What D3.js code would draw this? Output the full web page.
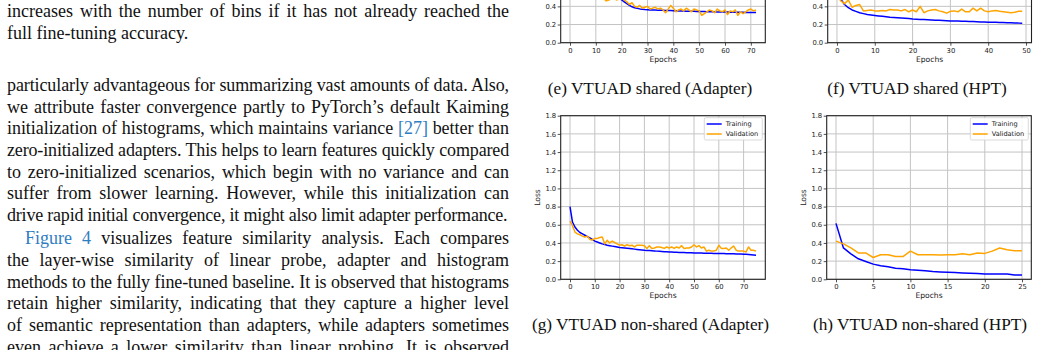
<!DOCTYPE html>
<html lang="en">
<head>
<meta charset="utf-8">
<title>VTUAD loss curves</title>
<style>
  body { margin: 0; width: 1038px; height: 350px; overflow: hidden; background: #fff; position: relative; }
  .ln { position: absolute; left: 7px; width: 502px; font: 18px "Liberation Serif", "Times New Roman", serif;
        line-height: 22px; color: #111; text-align: justify; text-align-last: justify; }
  .ln.last { text-align-last: left; }
  .lk { color: #2f7dc2; }
  #fig { position: absolute; left: 0; top: 0; }
  .tick text { font-family: "DejaVu Sans", sans-serif; font-size: 6.8px; fill: #222; }
  .lab { font-family: "DejaVu Sans", sans-serif; font-size: 7.6px; fill: #222; }
  .leg { font-family: "DejaVu Sans", sans-serif; font-size: 6.6px; fill: #222; }
  .cap { font-family: "Liberation Serif", "Times New Roman", serif; font-size: 17.3px; fill: #111; }
</style>
<script src="https://cdn.jsdelivr.net/npm/d3@7"></script>
</head>
<body>
<svg id="fig" width="1038" height="350"></svg>

<script>
// (e) VTUAD shared (Adapter), epochs 0..72
const eTrain = [1.20, 1.02, 0.90, 0.82, 0.76, 0.71, 0.67, 0.64, 0.615, 0.595, 0.58, 0.565, 0.55, 0.54, 0.53,
  0.52, 0.51, 0.50, 0.495, 0.49, 0.47, 0.45, 0.43, 0.41, 0.395, 0.385, 0.378, 0.372, 0.368, 0.365,
  0.363, 0.361, 0.36, 0.359, 0.358, 0.357, 0.356, 0.355, 0.354, 0.353, 0.352, 0.351, 0.35, 0.349, 0.348,
  0.347, 0.346, 0.346, 0.345, 0.344, 0.343, 0.343, 0.342, 0.341, 0.341, 0.34, 0.34, 0.339, 0.338, 0.338,
  0.337, 0.337, 0.336, 0.336, 0.335, 0.335, 0.334, 0.334, 0.333, 0.333, 0.332, 0.332, 0.331];
const eVal = [0.95, 0.80, 0.72, 0.66, 0.62, 0.60, 0.58, 0.56, 0.55, 0.54, 0.52, 0.53, 0.50, 0.49, 0.46,
  0.47, 0.48, 0.49, 0.47, 0.48, 0.50, 0.47, 0.45, 0.42, 0.44, 0.40, 0.39, 0.41, 0.38, 0.39,
  0.40, 0.37, 0.38, 0.39, 0.37, 0.38, 0.36, 0.33, 0.37, 0.41, 0.38, 0.34, 0.36, 0.37, 0.35,
  0.38, 0.36, 0.34, 0.37, 0.36, 0.35, 0.30, 0.32, 0.34, 0.36, 0.35, 0.33, 0.37, 0.35, 0.34,
  0.36, 0.31, 0.35, 0.34, 0.36, 0.30, 0.34, 0.32, 0.34, 0.36, 0.37, 0.35, 0.36];

// (f) VTUAD shared (HPT), epochs 0..49
const fTrain = [0.62, 0.48, 0.42, 0.385, 0.36, 0.345, 0.33, 0.32, 0.31, 0.305, 0.30, 0.295, 0.29, 0.285, 0.28,
  0.277, 0.274, 0.271, 0.268, 0.265, 0.26, 0.258, 0.256, 0.254, 0.252, 0.25, 0.248, 0.246, 0.244, 0.242,
  0.24, 0.239, 0.238, 0.236, 0.235, 0.233, 0.232, 0.231, 0.229, 0.228, 0.226, 0.225, 0.224, 0.223, 0.222,
  0.22, 0.219, 0.218, 0.216, 0.215];
const fVal = [0.52, 0.46, 0.43, 0.47, 0.39, 0.41, 0.42, 0.35, 0.355, 0.36, 0.35, 0.35, 0.355, 0.35, 0.365,
  0.36, 0.36, 0.35, 0.365, 0.34, 0.36, 0.34, 0.40, 0.33, 0.35, 0.36, 0.365, 0.35, 0.34, 0.325,
  0.345, 0.35, 0.34, 0.37, 0.34, 0.34, 0.38, 0.35, 0.38, 0.35, 0.34, 0.35, 0.355, 0.345, 0.34,
  0.335, 0.33, 0.335, 0.345, 0.345];

// (g) VTUAD non-shared (Adapter), epochs 0..75
const gTrain = [0.80, 0.63, 0.575, 0.54, 0.515, 0.50, 0.485, 0.47, 0.455, 0.44, 0.42, 0.41, 0.40, 0.39, 0.382,
  0.375, 0.37, 0.365, 0.36, 0.355, 0.35, 0.347, 0.344, 0.341, 0.338, 0.335, 0.332, 0.329, 0.326, 0.323,
  0.32, 0.318, 0.316, 0.314, 0.312, 0.31, 0.308, 0.306, 0.304, 0.302, 0.30, 0.299, 0.298, 0.297, 0.296,
  0.295, 0.294, 0.293, 0.292, 0.291, 0.29, 0.289, 0.288, 0.288, 0.287, 0.287, 0.286, 0.286, 0.285, 0.285,
  0.284, 0.283, 0.283, 0.282, 0.281, 0.28, 0.28, 0.279, 0.278, 0.277, 0.276, 0.275, 0.273, 0.271, 0.268,
  0.265];
const gVal = [0.64, 0.59, 0.52, 0.50, 0.49, 0.475, 0.465, 0.475, 0.44, 0.43, 0.45, 0.45, 0.46, 0.465, 0.39,
  0.43, 0.40, 0.42, 0.405, 0.39, 0.375, 0.38, 0.365, 0.38, 0.37, 0.375, 0.356, 0.375, 0.375, 0.375,
  0.37, 0.34, 0.37, 0.34, 0.345, 0.356, 0.356, 0.35, 0.34, 0.356, 0.345, 0.356, 0.34, 0.356, 0.345,
  0.37, 0.34, 0.345, 0.345, 0.356, 0.38, 0.356, 0.37, 0.345, 0.356, 0.31, 0.32, 0.31, 0.31, 0.32,
  0.375, 0.34, 0.34, 0.345, 0.32, 0.345, 0.365, 0.32, 0.31, 0.31, 0.31, 0.30, 0.356, 0.32, 0.32,
  0.31];

// (h) VTUAD non-shared (HPT), epochs 0..25
const hTrain = [0.615, 0.345, 0.28, 0.226, 0.196, 0.167, 0.148, 0.137, 0.122, 0.115, 0.104, 0.10, 0.093, 0.085, 0.081,
  0.078, 0.074, 0.07, 0.067, 0.063, 0.059, 0.059, 0.058, 0.058, 0.048, 0.048];
const hVal = [0.42, 0.39, 0.345, 0.29, 0.29, 0.24, 0.27, 0.27, 0.25, 0.25, 0.31, 0.27, 0.27, 0.27, 0.267,
  0.27, 0.27, 0.28, 0.27, 0.29, 0.285, 0.31, 0.345, 0.325, 0.315, 0.315];

const yTicks = [0, 0.2, 0.4, 0.6, 0.8, 1.0, 1.2, 1.4, 1.6, 1.8];
const seriesNames = ["Training", "Validation"];
const seriesColors = ["#0000ff", "#ffa500"];

// left column text: [text, baseline, class]
const textLines = [
  ["increases with the number of bins if it has not already reached the", 17.3, ""],
  ["full fine-tuning accuracy.", 38.6, "last"],
  ["particularly advantageous for summarizing vast amounts of data. Also,", 91, ""],
  ["we attribute faster convergence partly to PyTorch’s default Kaiming", 112.7, ""],
  ["initialization of histograms, which maintains variance <span class='lk'>[27]</span> better than", 134.3, ""],
  ["zero-initialized adapters. This helps to learn features quickly compared", 156, ""],
  ["to zero-initialized scenarios, which begin with no variance and can", 177.7, ""],
  ["suffer from slower learning. However, while this initialization can", 199.3, ""],
  ["drive rapid initial convergence, it might also limit adapter performance.", 221, "last"],
  ["<span class='lk'>Figure 4</span> visualizes feature similarity analysis. Each compares", 244.3, "indent"],
  ["the layer-wise similarity of linear probe, adapter and histogram", 266, ""],
  ["methods to the fully fine-tuned baseline. It is observed that histograms", 287.7, ""],
  ["retain higher similarity, indicating that they capture a higher level", 309.3, ""],
  ["of semantic representation than adapters, while adapters sometimes", 331, ""],
  ["even achieve a lower similarity than linear probing. It is observed", 352.7, ""]
];

d3.select("body").selectAll("div.ln").data(textLines).join("div")
  .attr("class", d => "ln " + (d[2] === "last" ? "last" : ""))
  .style("top", d => (d[1] - 17.07) + "px")
  .style("left", d => d[2] === "indent" ? "25px" : "7px")
  .style("width", d => d[2] === "indent" ? "484px" : "502px")
  .html(d => d[0])
  .each(function () {
    // tighten letters a bit if the line would wrap
    let ls = 0;
    while (this.offsetHeight > 23 && ls > -0.6) { ls -= 0.05; this.style.letterSpacing = ls + "px"; }
  });

const svg = d3.select("#fig");

function panel(cfg) {
  const n = cfg.train.length - 1;
  const x = d3.scaleLinear().domain([-0.05 * n, 1.05 * n]).range([cfg.x0, cfg.x1]);
  const y = d3.scaleLinear().domain([0, 1.8]).range([cfg.y1, cfg.y0]);
  const g = svg.append("g");
  const id = "clip" + cfg.name;
  const inView = v => v > -4;   // the top row is cropped by the page edge

  g.append("clipPath").attr("id", id).append("rect")
    .attr("x", cfg.x0).attr("y", cfg.y0).attr("width", cfg.x1 - cfg.x0).attr("height", cfg.y1 - cfg.y0);

  // grid
  g.append("g").selectAll("line").data(cfg.xTicks).join("line")
    .attr("x1", d => x(d)).attr("x2", d => x(d)).attr("y1", cfg.y0).attr("y2", cfg.y1)
    .attr("stroke", "#c4c4c4").attr("stroke-width", 1);
  g.append("g").selectAll("line").data(yTicks).join("line")
    .attr("x1", cfg.x0).attr("x2", cfg.x1).attr("y1", d => y(d)).attr("y2", d => y(d))
    .attr("stroke", "#c4c4c4").attr("stroke-width", 1);

  // axes
  const xa = g.append("g").attr("transform", `translate(0,${cfg.y1})`)
    .call(d3.axisBottom(x).tickValues(cfg.xTicks).tickFormat(d3.format("d")).tickSize(3).tickPadding(2));
  const ya = g.append("g").attr("transform", `translate(${cfg.x0},0)`)
    .call(d3.axisLeft(y).tickValues(yTicks.filter(d => inView(y(d)))).tickFormat(d3.format(".1f"))
      .tickSize(3).tickPadding(1.5));
  [xa, ya].forEach(a => {
    a.select(".domain").remove();
    a.selectAll(".tick line").attr("stroke", "#222").attr("stroke-width", 0.8);
  });

  // curves
  const line = d3.line().x((d, i) => x(i)).y(d => y(d));
  [cfg.train, cfg.val].forEach((s, k) => {
    g.append("path").datum(s).attr("clip-path", `url(#${id})`)
      .attr("fill", "none").attr("stroke", seriesColors[k]).attr("stroke-width", 1.5)
      .attr("stroke-linejoin", "round").attr("d", line);
  });

  // spines
  g.append("rect").attr("x", cfg.x0).attr("y", cfg.y0)
    .attr("width", cfg.x1 - cfg.x0).attr("height", cfg.y1 - cfg.y0)
    .attr("fill", "none").attr("stroke", "#222").attr("stroke-width", 1.1);

  // labels
  g.append("text").attr("class", "lab").attr("text-anchor", "middle")
    .attr("x", (cfg.x0 + cfg.x1) / 2).attr("y", cfg.y1 + 19).text("Epochs");
  if (inView(cfg.y0)) {
    g.append("text").attr("class", "lab").attr("text-anchor", "middle")
      .attr("transform", `translate(${cfg.lossX},${(cfg.y0 + cfg.y1) / 2}) rotate(-90)`).text("Loss");

    // legend
    const lg = g.append("g").attr("transform", `translate(${cfg.x1 - 61},${cfg.y0 + 2})`);
    lg.append("rect").attr("width", 58).attr("height", 22.3).attr("rx", 1.5)
      .attr("fill", "#fff").attr("fill-opacity", 0.85).attr("stroke", "#d0d0d0").attr("stroke-width", 0.8);
    seriesNames.forEach((nm, k) => {
      const yy = 6.3 + k * 10;
      lg.append("line").attr("x1", 2.4).attr("x2", 17.4).attr("y1", yy).attr("y2", yy)
        .attr("stroke", seriesColors[k]).attr("stroke-width", 1.5);
      lg.append("text").attr("class", "leg").attr("x", 21.4).attr("y", yy + 2.3).text(nm);
    });
  }

  svg.append("text").attr("class", "cap").attr("text-anchor", "middle")
    .attr("x", cfg.capX).attr("y", cfg.capY).text(cfg.caption);
}

panel({ name: "e", train: eTrain, val: eVal, x0: 560.7, x1: 765.3, y0: -120.9, y1: 42.7,
  xTicks: [0, 10, 20, 30, 40, 50, 60, 70], lossX: 540, capX: 650, capY: 93.5,
  caption: "(e) VTUAD shared (Adapter)" });
panel({ name: "f", train: fTrain, val: fVal, x0: 827.7, x1: 1031.5, y0: -120.9, y1: 42.7,
  xTicks: [0, 10, 20, 30, 40, 50], lossX: 806, capX: 917, capY: 93.5,
  caption: "(f) VTUAD shared (HPT)" });
panel({ name: "g", train: gTrain, val: gVal, x0: 560.7, x1: 765.3, y0: 115.7, y1: 279.3,
  xTicks: [0, 10, 20, 30, 40, 50, 60, 70], lossX: 540, capX: 650.5, capY: 330,
  caption: "(g) VTUAD non-shared (Adapter)" });
panel({ name: "h", train: hTrain, val: hVal, x0: 826.7, x1: 1031.3, y0: 115.7, y1: 279.3,
  xTicks: [0, 5, 10, 15, 20, 25], lossX: 806, capX: 920, capY: 330,
  caption: "(h) VTUAD non-shared (HPT)" });
</script>
</body>
</html>
